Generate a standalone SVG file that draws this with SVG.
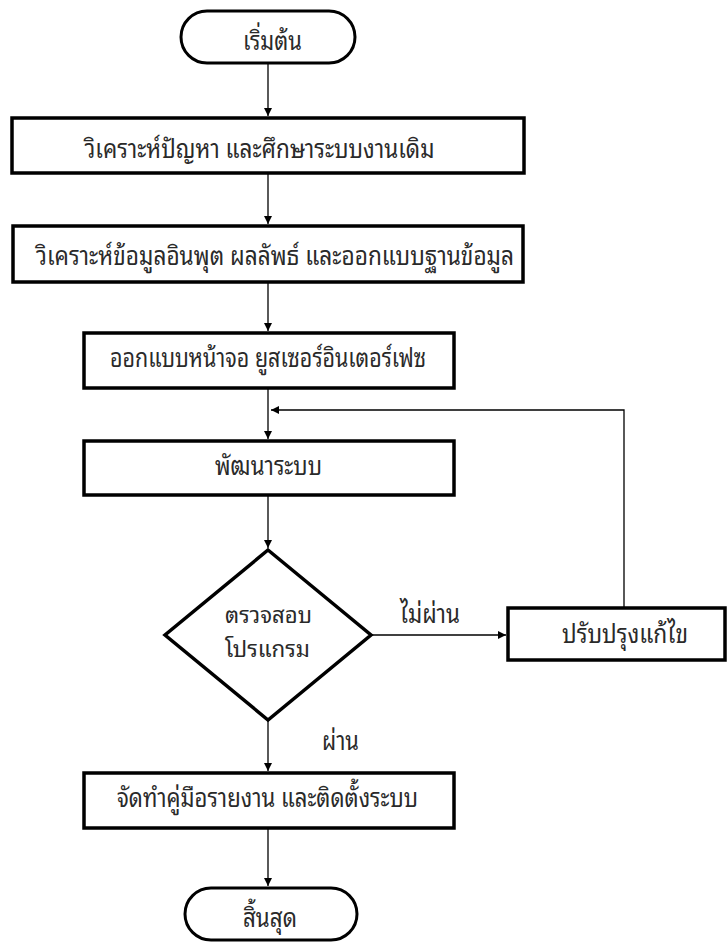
<svg xmlns="http://www.w3.org/2000/svg" width="727" height="942" viewBox="0 0 727 942">
  <style>
    .shape { fill: #ffffff; stroke: #000000; stroke-width: 3.5; }
    .term { fill: #ffffff; stroke: #000000; stroke-width: 3; }
    .edge { fill: none; stroke: #000000; stroke-width: 1.3; }
    .lbl { font-family: "Noto Sans Thai Looped", "Loma", "Garuda", "Tahoma", "Noto Sans Thai", "Noto Sans", sans-serif; font-size: 26px; fill: #2a2a2a; }
    .tight { font-size: 22px; }
  </style>
  <defs>
    <marker id="arrow" viewBox="0 0 10 10" refX="10" refY="5" markerWidth="8" markerHeight="8" markerUnits="userSpaceOnUse" orient="auto">
      <path d="M0,0 L10,5 L0,10 Z" fill="#000000"/>
    </marker>
  </defs>
  <rect width="727" height="942" fill="#ffffff"/>

  <!-- connectors -->
  <g id="connectors">
    <line class="edge" x1="268" y1="63" x2="268" y2="116" marker-end="url(#arrow)"/>
    <line class="edge" x1="268" y1="173" x2="268" y2="224" marker-end="url(#arrow)"/>
    <line class="edge" x1="268" y1="282" x2="268" y2="331" marker-end="url(#arrow)"/>
    <line class="edge" x1="268" y1="388" x2="268" y2="439" marker-end="url(#arrow)"/>
    <line class="edge" x1="268" y1="495" x2="268" y2="548" marker-end="url(#arrow)"/>
    <line class="edge" x1="371" y1="635" x2="506" y2="635" marker-end="url(#arrow)"/>
    <polyline class="edge" points="624,608 624,410 271,410" marker-end="url(#arrow)"/>
    <line class="edge" x1="268" y1="720" x2="268" y2="771" marker-end="url(#arrow)"/>
    <line class="edge" x1="268" y1="828" x2="268" y2="886" marker-end="url(#arrow)"/>
    <text class="lbl" x="400" y="623" textLength="60" lengthAdjust="spacingAndGlyphs">ไม่ผ่าน</text>
    <text class="lbl" x="322" y="750" textLength="37" lengthAdjust="spacingAndGlyphs">ผ่าน</text>
  </g>

  <g id="start">
    <rect class="term" x="181" y="11" width="174" height="52" rx="26" ry="26"/>
    <text class="lbl" x="243" y="50" textLength="59" lengthAdjust="spacingAndGlyphs">เริ่มต้น</text>
  </g>

  <g id="analyze-problem">
    <rect class="shape" x="12" y="118" width="512" height="55"/>
    <text class="lbl" x="84.5" y="158" textLength="350" lengthAdjust="spacingAndGlyphs">วิเคราะห์ปัญหา และศึกษาระบบงานเดิม</text>
  </g>

  <g id="analyze-data">
    <rect class="shape" x="13" y="226" width="510" height="56"/>
    <text class="lbl" x="36" y="265" textLength="478" lengthAdjust="spacingAndGlyphs">วิเคราะห์ข้อมูลอินพุต ผลลัพธ์ และออกแบบฐานข้อมูล</text>
  </g>

  <g id="design-ui">
    <rect class="shape" x="84" y="333" width="370" height="55"/>
    <text class="lbl" x="110" y="367" textLength="316" lengthAdjust="spacingAndGlyphs">ออกแบบหน้าจอ ยูสเซอร์อินเตอร์เฟซ</text>
  </g>

  <g id="develop">
    <rect class="shape" x="84" y="441" width="370" height="54"/>
    <text class="lbl" x="215" y="475" textLength="107" lengthAdjust="spacingAndGlyphs">พัฒนาระบบ</text>
  </g>

  <g id="test">
    <polygon class="shape" points="268,550 371,635 268,720 165,635"/>
    <text class="lbl tight" x="225" y="623" textLength="87" lengthAdjust="spacingAndGlyphs">ตรวจสอบ</text>
    <text class="lbl tight" x="225" y="657" textLength="85" lengthAdjust="spacingAndGlyphs">โปรแกรม</text>
  </g>

  <g id="fix">
    <rect class="shape" x="508" y="608" width="217" height="52"/>
    <text class="lbl" x="562" y="643" textLength="126" lengthAdjust="spacingAndGlyphs">ปรับปรุงแก้ไข</text>
  </g>

  <g id="manual-install">
    <rect class="shape" x="84" y="773" width="370" height="55"/>
    <text class="lbl" x="117" y="807" textLength="301" lengthAdjust="spacingAndGlyphs">จัดทำคู่มือรายงาน และติดตั้งระบบ</text>
  </g>

  <g id="end">
    <rect class="term" x="185" y="888" width="172" height="52" rx="26" ry="26"/>
    <text class="lbl" x="243" y="927" textLength="54" lengthAdjust="spacingAndGlyphs">สิ้นสุด</text>
  </g>
</svg>
